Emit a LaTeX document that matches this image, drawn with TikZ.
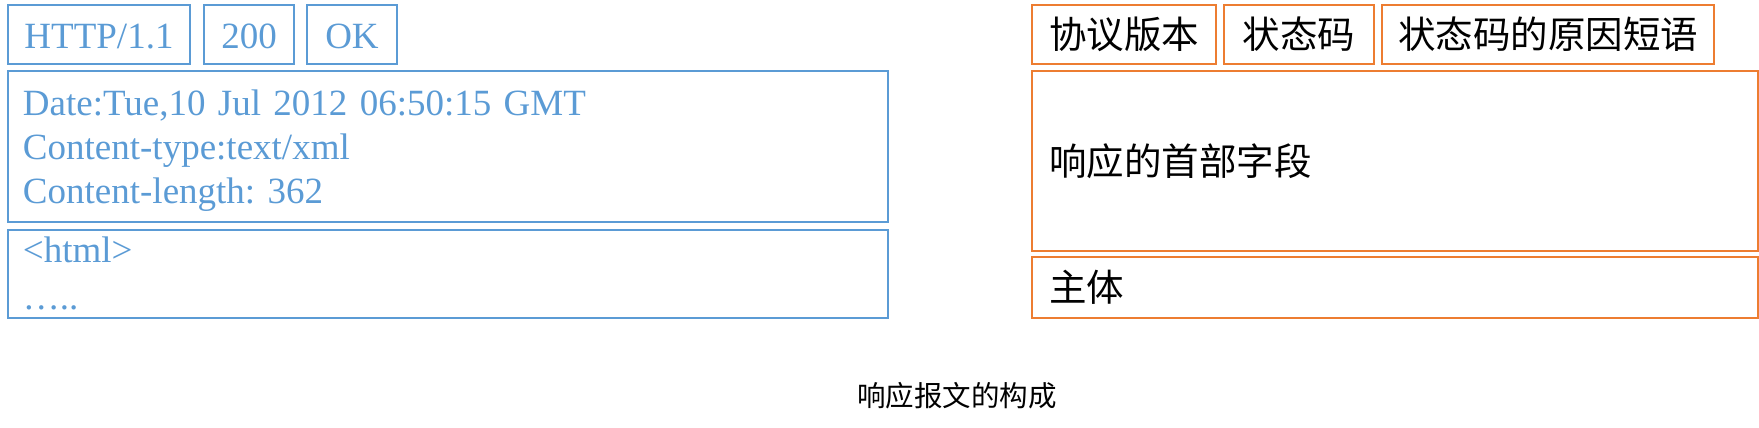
\documentclass[tikz,border=0pt]{standalone}
\usepackage{fontspec}
\newfontfamily\tnr{Liberation Serif}
\newfontfamily\cjk{Noto Sans CJK SC}
\definecolor{msgblue}{HTML}{5B9BD5}
\definecolor{msgorange}{HTML}{ED7D31}
\tikzset{
	msgbox/.style = {rectangle, line width=2pt, inner sep=0pt, outer sep=0pt},
	msg_b/.style = {msgbox, draw=msgblue, text=msgblue,
		font=\tnr\fontsize{37}{44}\selectfont\frenchspacing},%报文示例, 蓝框
	msg_o/.style = {msgbox, draw=msgorange, text=black,
		font=\cjk\fontsize{37.5}{45}\selectfont},% 报文结构, 橙框
	msg_l/.style = {align=left, inner xsep=15pt}% 左对齐的多行内容
}
\begin{document}
\begin{tikzpicture}[x=1pt,y=-1pt]
	\useasboundingbox (0,0) rectangle (1759,428);
	% 示例
	\node[msg_b, minimum width=182pt, minimum height=59pt, text height=29pt] (ver) at (99,34.5) {HTTP/1.1};
	\node[msg_b, minimum width=90pt, minimum height=59pt, text height=29pt] (code) at (249,34.5) {200};
	\node[msg_b, minimum width=90pt, minimum height=59pt, text height=29pt] (ok) at (352,34.5) {OK};
	\node[msg_b, msg_l, minimum width=880pt, minimum height=151pt, text width=850pt]
		(hdr) at (448,146.5) {\rule{0pt}{34pt}Date:Tue,10 Jul 2012 06:50:15 GMT\\Content-type:text/xml\\Content-length: 362};
	\node[msg_b, msg_l, minimum width=880pt, minimum height=88.5pt, text width=850pt]
		(body) at (448,273.75) {<html>\\[3pt]…..};
	% 结构
	\node[msg_o, minimum width=184pt, minimum height=59pt] (o_ver) at (1124,34.5) {协议版本};
	\node[msg_o, minimum width=150pt, minimum height=59pt] (o_code) at (1299,34.5) {状态码};
	\node[msg_o, minimum width=332pt, minimum height=59pt] (o_ok) at (1548,34.5) {状态码的原因短语};
	\node[msg_o, msg_l, minimum width=726pt, minimum height=180pt, text width=692pt]
		(o_hdr) at (1395,161) {响应的首部字段};
	\node[msg_o, msg_l, minimum width=726pt, minimum height=60.5pt, text width=692pt]
		(o_body) at (1395,287.25) {主体};
	% 标题
	\node[font=\cjk\fontsize{28.5}{30}\selectfont] (title) at (957,396) {响应报文的构成};
\end{tikzpicture}
\end{document}
